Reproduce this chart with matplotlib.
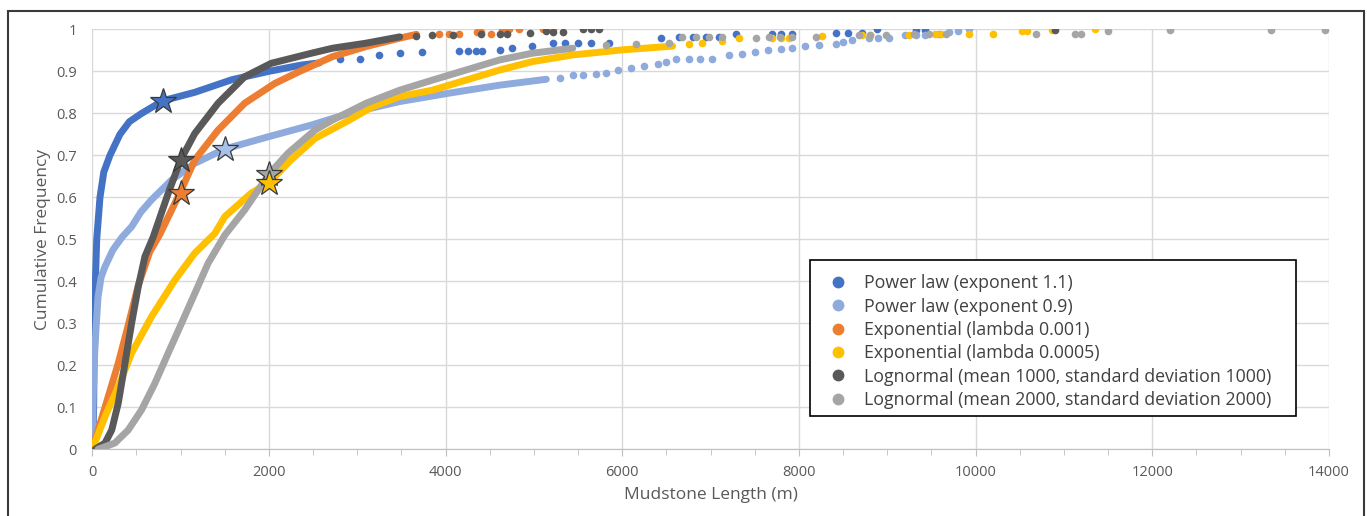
import numpy as np
import matplotlib
matplotlib.use("Agg")
import matplotlib.pyplot as plt
from matplotlib.lines import Line2D
from matplotlib.patches import Rectangle

plt.rcParams['font.family'] = ['Open Sans', 'DejaVu Sans']

# ---- data (length m, cumulative frequency) ----
# dense part of each curve (drawn as a thick chain of dots)
pl11_x = [0, 10, 15, 20, 25, 35, 50, 87, 130, 200, 313, 420, 560, 800, 1160, 1580, 2000, 2370, 2570]
pl11_y = [0, 0.05, 0.1, 0.2, 0.3, 0.4, 0.5, 0.6, 0.66, 0.7, 0.75, 0.78, 0.8, 0.83, 0.85, 0.88, 0.9, 0.915, 0.92]
pl09_x = [0, 8, 20, 40, 65, 100, 144, 234, 340, 445, 550, 670, 897, 1160, 1500, 1990, 2480, 2910, 3480, 4040, 4610, 5140]
pl09_y = [0, 0.1, 0.2, 0.28, 0.363, 0.41, 0.435, 0.475, 0.506, 0.53, 0.565, 0.594, 0.641, 0.681, 0.715, 0.744, 0.772, 0.80, 0.828, 0.848, 0.867, 0.881]
ex1_x = [0, 144, 294, 400, 520, 650, 760, 991, 1160, 1424, 1725, 2065, 2350, 2720, 3100, 3480, 3670]
ex1_y = [0, 0.10, 0.205, 0.29, 0.39, 0.47, 0.51, 0.61, 0.689, 0.76, 0.824, 0.871, 0.90, 0.935, 0.959, 0.979, 0.988]
ex05_x = [0, 144, 294, 445, 671, 935, 1160, 1387, 1500, 1800, 2000, 2250, 2520, 2910, 3175, 3480, 3850, 4230, 4610, 4980, 5440, 6000, 6570]
ex05_y = [0, 0.078, 0.149, 0.229, 0.316, 0.403, 0.467, 0.514, 0.554, 0.61, 0.635, 0.689, 0.74, 0.784, 0.816, 0.84, 0.855, 0.879, 0.903, 0.923, 0.939, 0.951, 0.96]
ln1_x = [30, 144, 220, 294, 370, 445, 520, 596, 690, 860, 1000, 1160, 1424, 1725, 2025, 2480, 2720, 3100, 3480]
ln1_y = [0, 0.015, 0.046, 0.11, 0.205, 0.30, 0.387, 0.459, 0.506, 0.61, 0.689, 0.752, 0.824, 0.887, 0.919, 0.943, 0.955, 0.967, 0.982]
ln2_x = [65, 256, 407, 558, 708, 859, 1010, 1160, 1311, 1500, 1725, 2000, 2215, 2520, 2720, 3100, 3480, 3850, 4230, 4610, 4980, 5440]
ln2_y = [0, 0.015, 0.046, 0.094, 0.157, 0.229, 0.30, 0.371, 0.443, 0.51, 0.57, 0.655, 0.705, 0.76, 0.784, 0.824, 0.855, 0.879, 0.903, 0.927, 0.943, 0.955]

# sparse tail dots
pl11_tx = [2800, 3025, 3250, 3480, 3735, 4155, 4250, 4340, 4415, 4610, 4755, 4980, 5210, 5350, 5500, 5650, 5850,
           6440, 6640, 6800, 6950, 7090, 7285, 7690, 7800, 7920, 8420, 8550, 8710, 8880, 9320, 9430]
pl11_ty = [0.93, 0.93, 0.939, 0.943, 0.946, 0.948, 0.948, 0.948, 0.948, 0.95, 0.955, 0.961, 0.967, 0.967, 0.967, 0.967, 0.967,
           0.979, 0.982, 0.982, 0.982, 0.982, 0.989, 0.99, 0.99, 0.99, 0.992, 0.992, 0.992, 1.0, 0.998, 0.998]
pl09_tx = [5290, 5440, 5560, 5700, 5820, 5950, 6100, 6250, 6400, 6500, 6610, 6750, 6880, 7020, 7210, 7350, 7500, 7650,
           7800, 7920, 8070, 8230, 8420, 8500, 8600, 8790, 8900, 9020, 9200, 9320, 9430, 9580, 9700, 9800, 9920]
pl09_ty = [0.885, 0.891, 0.891, 0.893, 0.897, 0.903, 0.908, 0.912, 0.918, 0.922, 0.929, 0.929, 0.929, 0.93, 0.939, 0.942,
           0.946, 0.95, 0.953, 0.955, 0.961, 0.963, 0.966, 0.97, 0.974, 0.979, 0.979, 0.98, 0.986, 0.986, 0.987, 0.99, 0.993,
           0.996, 1.0]
ex1_tx = [3930, 4040, 4150, 4350, 4400, 4510, 4640, 4720, 4830, 5100, 5210]
ex1_ty = [0.99, 0.99, 0.99, 0.994, 0.994, 0.99, 1.0, 1.0, 1.0, 1.0, 1.0]
ex05_tx = [6750, 6900, 7130, 7320, 7700, 7800, 7890, 8260, 8710, 8800, 9240, 9540, 9610, 9920, 10200, 10520, 10580, 10860, 11350]
ex05_ty = [0.965, 0.968, 0.973, 0.98, 0.98, 0.98, 0.98, 0.985, 0.986, 0.986, 0.987, 0.99, 0.99, 0.99, 0.99, 0.995, 0.995, 0.998, 1.0]
ln1_tx = [3670, 3850, 4080, 4400, 4610, 4700, 4950, 5140, 5210, 5330, 5550, 5640, 5740, 10900]
ln1_ty = [0.984, 0.986, 0.986, 0.99, 0.99, 0.99, 0.992, 0.996, 0.993, 0.993, 1.0, 1.0, 1.0, 0.998]
ln2_tx = [5820, 6150, 6530, 6680, 6830, 6980, 7130, 7510, 7660, 7780, 7920, 8190, 8680, 8800, 8990, 9300, 9470, 9660,
          10680, 11120, 11190, 11500, 12200, 13340, 13950]
ln2_ty = [0.963, 0.965, 0.968, 0.982, 0.982, 0.982, 0.982, 0.98, 0.982, 0.982, 0.982, 0.982, 0.986, 0.986, 0.986, 0.988,
          0.988, 0.99, 0.988, 0.99, 0.99, 0.995, 0.998, 0.998, 0.998]

# stars (one per series)
star_x = [800, 1500, 1000, 1000, 2000, 2000]
star_y = [0.83, 0.715, 0.61, 0.688, 0.655, 0.635]
star_c = ['#4472C4', '#A9C0E8', '#ED7D31', '#595959', '#A5A5A5', '#FFC000']

labels = ['Power law (exponent 1.1)', 'Power law (exponent 0.9)', 'Exponential (lambda 0.001)',
          'Exponential (lambda 0.0005)', 'Lognormal (mean 1000, standard deviation 1000)',
          'Lognormal (mean 2000, standard deviation 2000)']
colors = ['#4472C4', '#8FAADC', '#ED7D31', '#FFC000', '#595959', '#A5A5A5']

curves = [(pl11_x, pl11_y, pl11_tx, pl11_ty), (pl09_x, pl09_y, pl09_tx, pl09_ty),
          (ex1_x, ex1_y, ex1_tx, ex1_ty), (ex05_x, ex05_y, ex05_tx, ex05_ty),
          (ln1_x, ln1_y, ln1_tx, ln1_ty), (ln2_x, ln2_y, ln2_tx, ln2_ty)]

fig = plt.figure(figsize=(13.67, 5.16), dpi=100)
ax = fig.add_axes([92.3 / 1367, 1 - 449.3 / 516, 1236.7 / 1367, 420 / 516])

for (cx, cy, tx, ty), c in zip(curves, colors):
    ax.plot(cx, cy, color=c, lw=5, solid_capstyle='round', solid_joinstyle='round', zorder=3)
    ax.plot(tx, ty, 'o', color=c, ms=5.5, mew=0, zorder=3)

for sx, sy, sc in zip(star_x, star_y, star_c):
    ax.plot(sx, sy, marker='*', ms=19, color=sc, mec='#3A3A3A', mew=0.9, zorder=5)

ax.set_xlim(0, 14000)
ax.set_ylim(0, 1)
ax.set_xticks(np.arange(0, 14001, 2000))
ax.set_xticks(np.arange(0, 14001, 500), minor=True)
ax.set_yticks(np.arange(0, 1.01, 0.1))
ax.set_yticklabels(['0', '0.1', '0.2', '0.3', '0.4', '0.5', '0.6', '0.7', '0.8', '0.9', '1'])
ax.grid(True, which='major', color='#D9D9D9', lw=1)
ax.set_axisbelow(True)
for s in ['top', 'right', 'left']:
    ax.spines[s].set_visible(False)
ax.spines['bottom'].set_color('#BFBFBF')
ax.tick_params(axis='x', which='both', color='#BFBFBF', direction='out')
ax.tick_params(axis='x', which='major', length=5, pad=6, labelsize=10.5, labelcolor='#595959')
ax.tick_params(axis='x', which='minor', length=4)
ax.tick_params(axis='y', length=0, pad=11, labelsize=10.5, labelcolor='#595959')

ax.set_xlabel('Mudstone Length (m)', fontsize=12.5, color='#595959', labelpad=5)
ax.set_ylabel('Cumulative Frequency', fontsize=12.5, color='#595959', labelpad=4)

# legend without its own frame; the box is drawn separately
handles = [Line2D([], [], ls='', marker='o', ms=7.5, color=c) for c in colors]
leg = ax.legend(handles, labels, loc='lower left', bbox_to_anchor=(0.5884, 0.096), borderaxespad=0,
                borderpad=0, frameon=False, fontsize=12.8, labelcolor='#404040', labelspacing=0.3,
                handletextpad=0.45)
leg.set_zorder(6)
ax.add_patch(Rectangle((0.5803, 0.0793), 0.393, 0.371, transform=ax.transAxes, facecolor='white',
                       edgecolor='#000000', lw=1.2, zorder=5.5))

# outer chart border
fig.patches.append(Rectangle((8 / 1367, -0.02), 1356 / 1367, 1 - 11 / 516 + 0.02, transform=fig.transFigure,
                             fill=False, edgecolor='#3A3A3A', lw=1.5))

fig.savefig('out.png', dpi=100)
